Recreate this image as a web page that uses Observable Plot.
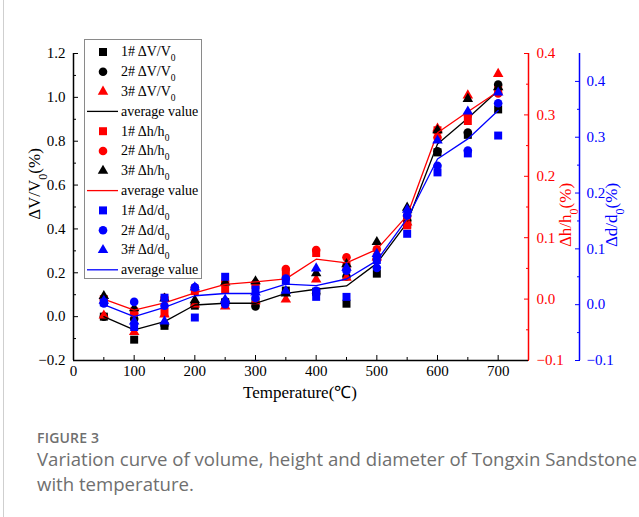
<!DOCTYPE html>
<html>
<head>
<meta charset="utf-8">
<script src="https://cdn.jsdelivr.net/npm/d3@7"></script>
<script src="https://cdn.jsdelivr.net/npm/@observablehq/plot@0.6"></script>
<style>
  html, body { margin: 0; padding: 0; background: #fff; }
  #page { position: relative; width: 639px; height: 517px; overflow: hidden; }
  #edge { position: absolute; left: 3px; top: 0; width: 1px; height: 517px; background: #cfcfcf; }
  #chart { position: absolute; left: 0; top: 0; }
  #fig { position: absolute; left: 37px; top: 432px; font-family: "Open Sans", sans-serif; font-size: 14px; line-height: 12px; font-weight: 600; color: #6f6f6f; letter-spacing: 0.2px; }
  #cap { position: absolute; left: 37px; top: 446px; font-family: "Open Sans", sans-serif; font-size: 18.6px; font-weight: 400; color: #6f6f6f; line-height: 25px; white-space: nowrap; }
</style>
</head>
<body>
<div id="page">
  <div id="edge"></div>
  <div id="chart"></div>
  <div id="fig">FIGURE 3</div>
  <div id="cap">Variation curve of volume, height and diameter of Tongxin Sandstone<br>with temperature.</div>
</div>
<script>
// ---------- data ----------
const temps = [50, 100, 150, 200, 250, 300, 350, 400, 450, 500, 550, 600, 650, 700];

// ΔV/V0 (%) — left axis
const V1 = [0.0, -0.105, -0.042, 0.05, 0.065, 0.065, 0.119, 0.114, 0.059, 0.196, 0.42, 0.749, 0.829, 0.945];
const V2 = [0.0, -0.01, -0.037, 0.055, 0.07, 0.046, 0.11, 0.105, 0.183, 0.263, 0.44, 0.754, 0.84, 1.058];
const V3 = [0.005, -0.07, 0.01, 0.055, 0.046, 0.07, 0.078, 0.169, 0.178, 0.27, 0.43, 0.858, 1.009, 1.107];
const Vavg = [0.0, -0.06, -0.023, 0.053, 0.061, 0.061, 0.106, 0.125, 0.14, 0.243, 0.429, 0.787, 0.905, 1.031];

// Δh/h0 (%) — red right axis
const H1 = [0.0, -0.02, -0.021, 0.013, 0.016, 0.023, 0.041, 0.075, 0.054, 0.068, 0.12, 0.275, 0.29, 0.34];
const H2 = [0.0, -0.023, 0.002, 0.019, 0.028, 0.026, 0.049, 0.08, 0.068, 0.081, 0.135, 0.263, 0.299, 0.335];
const H3 = [0.005, -0.015, 0.001, -0.002, 0.027, 0.029, 0.009, 0.042, 0.057, 0.093, 0.149, 0.275, 0.326, 0.345];
const Havg = [0.0, -0.018, -0.006, 0.01, 0.024, 0.028, 0.033, 0.065, 0.059, 0.081, 0.136, 0.271, 0.305, 0.338];

// Δd/d0 (%) — blue right axis
const D1 = [0.004, -0.04, 0.0125, -0.023, 0.05, 0.027, 0.043, 0.014, 0.014, 0.08, 0.127, 0.237, 0.271, 0.303];
const D2 = [0.002, 0.005, -0.002, 0.031, 0.001, 0.012, 0.047, 0.025, 0.061, 0.066, 0.16, 0.249, 0.276, 0.361];
const D3 = [0.007, -0.03, -0.03, 0.031, 0.009, 0.022, 0.025, 0.065, 0.066, 0.091, 0.17, 0.294, 0.346, 0.38];
const Davg = [0.0, -0.0215, -0.005, 0.016, 0.02, 0.02, 0.037, 0.034, 0.046, 0.079, 0.154, 0.261, 0.297, 0.348];

// axis domains and ticks
const vDomain = [-0.2, 1.2];
const hDomain = [-0.1, 0.4];
const dDomain = [-0.1, 0.45];
const xDomain = [0, 750];
const xTicks = [0, 100, 200, 300, 400, 500, 600, 700];
const xMinor = [50, 150, 250, 350, 450, 550, 650];
const vTicks = [-0.2, 0.0, 0.2, 0.4, 0.6, 0.8, 1.0, 1.2];
const vMinor = [-0.1, 0.1, 0.3, 0.5, 0.7, 0.9, 1.1];
const hTicks = [-0.1, 0.0, 0.1, 0.2, 0.3, 0.4];
const hMinor = [-0.05, 0.05, 0.15, 0.25, 0.35];
const dTicks = [-0.1, 0.0, 0.1, 0.2, 0.3, 0.4];
const dMinor = [-0.05, 0.05, 0.15, 0.25, 0.35];

// ---------- mapping secondary axes onto the primary y scale ----------
const lin = (from, to) => v => to[0] + (v - from[0]) * (to[1] - to[0]) / (from[1] - from[0]);
const hToY = lin(hDomain, vDomain), yToH = lin(vDomain, hDomain);
const dToY = lin(dDomain, vDomain), yToD = lin(vDomain, dDomain);
const ident = v => v;
const fmt1 = v => { const s = (Math.abs(v) < 1e-9 ? 0 : v).toFixed(1); return s.replace("-", "\u2212"); };

const pts = (vals, tf) => temps.map((t, i) => ({t, y: tf(vals[i])}));

const RED = "#ff0000", BLUE = "#0000ff", BLACK = "#000000";
const series = [
  {vals: V1, tf: ident, kind: "square", color: BLACK, label: ["1# \u0394V/V", "0"]},
  {vals: V2, tf: ident, kind: "circle", color: BLACK, label: ["2# \u0394V/V", "0"]},
  {vals: V3, tf: ident, kind: "triangle", color: RED, label: ["3# \u0394V/V", "0"]},
  {vals: Vavg, tf: ident, kind: "line", color: BLACK, label: ["average value", ""]},
  {vals: H1, tf: hToY, kind: "square", color: RED, label: ["1# \u0394h/h", "0"]},
  {vals: H2, tf: hToY, kind: "circle", color: RED, label: ["2# \u0394h/h", "0"]},
  {vals: H3, tf: hToY, kind: "triangle", color: BLACK, label: ["3# \u0394h/h", "0"]},
  {vals: Havg, tf: hToY, kind: "line", color: RED, label: ["average value", ""]},
  {vals: D1, tf: dToY, kind: "square", color: BLUE, label: ["1# \u0394d/d", "0"]},
  {vals: D2, tf: dToY, kind: "circle", color: BLUE, label: ["2# \u0394d/d", "0"]},
  {vals: D3, tf: dToY, kind: "triangle", color: BLUE, label: ["3# \u0394d/d", "0"]},
  {vals: Davg, tf: dToY, kind: "line", color: BLUE, label: ["average value", ""]}
];
const symR = {square: 4.5, circle: 4.3, triangle: 3.9};

const dataMarks = series.map(s => s.kind === "line"
  ? Plot.line(pts(s.vals, s.tf), {x: "t", y: "y", stroke: s.color, strokeWidth: 1.3})
  : Plot.dot(pts(s.vals, s.tf), {x: "t", y: "y", symbol: s.kind, fill: s.color, stroke: "none", r: symR[s.kind]}));

const BLUE_OFFSET = 51;

const chart = Plot.plot({
  width: 639,
  height: 410,
  marginLeft: 73,
  marginRight: 111,
  marginTop: 53,
  marginBottom: 50,
  x: {domain: xDomain},
  y: {domain: vDomain},
  style: {fontFamily: "'Liberation Serif', 'Times New Roman', serif", fontSize: "15px", color: "#000", background: "transparent", overflow: "visible"},
  marks: [
    // bottom axis
    Plot.axisX({ticks: xTicks, tickSize: -5, tickPadding: 10, tickFormat: d => String(d), label: null, color: BLACK}),
    Plot.axisX({ticks: xMinor, tickSize: -3, tickPadding: 0, tickFormat: () => "", label: null, color: BLACK}),
    // left axis
    Plot.axisY({anchor: "left", ticks: vTicks, tickSize: -5, tickPadding: 13, tickFormat: fmt1, label: null, color: BLACK}),
    Plot.axisY({anchor: "left", ticks: vMinor, tickSize: -3, tickPadding: 0, tickFormat: () => "", label: null, color: BLACK}),
    // red right axis
    Plot.axisY({anchor: "right", ticks: hTicks.map(hToY), tickSize: -5, tickPadding: 13, tickFormat: t => fmt1(yToH(t)), label: null, color: RED}),
    Plot.axisY({anchor: "right", ticks: hMinor.map(hToY), tickSize: -3, tickPadding: 0, tickFormat: () => "", label: null, color: RED}),
    // blue right axis (offset)
    Plot.axisY({anchor: "right", dx: BLUE_OFFSET, ticks: dTicks.map(dToY), tickSize: -5, tickPadding: 12, tickFormat: t => fmt1(yToD(t)), label: null, color: BLUE}),
    Plot.axisY({anchor: "right", dx: BLUE_OFFSET, ticks: dMinor.map(dToY), tickSize: -3, tickPadding: 0, tickFormat: () => "", label: null, color: BLUE}),
    // axis lines
    Plot.ruleX([xDomain[0]], {stroke: BLACK, strokeWidth: 1.5}),
    Plot.ruleY([vDomain[0]], {stroke: BLACK, strokeWidth: 1.5}),
    Plot.ruleX([xDomain[1]], {stroke: RED, strokeWidth: 1.5}),
    Plot.ruleX([xDomain[1]], {stroke: BLUE, strokeWidth: 1.5, dx: BLUE_OFFSET}),
    ...dataMarks
  ]
});
document.getElementById("chart").appendChild(chart);

// ---------- titles and legend ----------
const svg = d3.select(chart);
const serif = "'Liberation Serif', 'Times New Roman', serif";

function subText(sel, main, sub, size) {
  sel.append("tspan").text(main);
  if (sub) sel.append("tspan").attr("baseline-shift", "sub").attr("font-size", size * 0.68).text(sub);
}

function yTitle(x, y, main, sub, tail, color) {
  const t = svg.append("text")
    .attr("transform", `translate(${x},${y}) rotate(-90)`)
    .attr("text-anchor", "middle").attr("dy", "0.35em")
    .attr("font-family", serif).attr("font-size", 17).attr("fill", color);
  t.append("tspan").text(main);
  t.append("tspan").attr("baseline-shift", "sub").attr("font-size", 12).text(sub);
  t.append("tspan").text(tail);
}
yTitle(34, 184, "\u0394V/V", "0", "(%)", BLACK);
yTitle(565, 215, "\u0394h/h", "0", "(%)", RED);
yTitle(611, 215, "\u0394d/d", "0", "(%)", BLUE);

svg.append("text").attr("x", 300).attr("y", 392).attr("dy", "0.35em")
  .attr("text-anchor", "middle").attr("font-family", serif).attr("font-size", 17)
  .attr("fill", BLACK).text("Temperature(\u2103)");

// legend
const lg = svg.append("g");
lg.append("rect").attr("x", 84.5).attr("y", 39.5).attr("width", 117).attr("height", 239)
  .attr("fill", "#fff").attr("stroke", "#8a8a8a").attr("stroke-width", 1);
const symMap = {square: d3.symbolSquare, circle: d3.symbolCircle, triangle: d3.symbolTriangle};
series.forEach((s, i) => {
  const y = 52 + i * 19.8;
  if (s.kind === "line") {
    lg.append("line").attr("x1", 87).attr("x2", 118).attr("y1", y).attr("y2", y)
      .attr("stroke", s.color).attr("stroke-width", 1.3);
  } else {
    const r = symR[s.kind];
    lg.append("path").attr("transform", `translate(103,${y})`)
      .attr("d", d3.symbol(symMap[s.kind], Math.PI * r * r)()).attr("fill", s.color);
  }
  const t = lg.append("text").attr("x", 121).attr("y", y).attr("dy", "0.32em")
    .attr("text-anchor", "start")
    .attr("font-family", serif).attr("font-size", 14).attr("fill", BLACK);
  subText(t, s.label[0], s.label[1], 14);
});
</script>
</body>
</html>
